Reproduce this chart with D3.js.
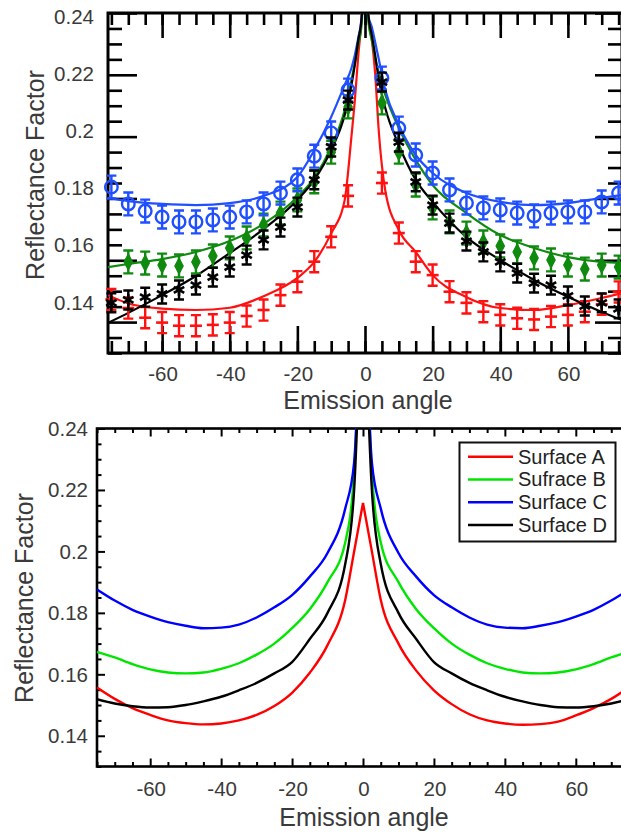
<!DOCTYPE html>
<html>
<head>
<meta charset="utf-8">
<script src="https://cdn.jsdelivr.net/npm/d3@7"></script>
<style>
  body { margin: 0; background: #fff; }
  svg text { font-family: "Liberation Sans", Arial, Helvetica, sans-serif; }
</style>
</head>
<body>
<svg id="chart" width="621" height="833"></svg>
<script>
// ---------- measured reflectance (upper panel) ----------
const measAngles = [-75,-70,-65,-60,-55,-50,-45,-40,-35,-30,-25,-20,-15,-10,-5,
                    5,10,15,20,25,30,35,40,45,50,55,60,65,70,75];
const measA = [0.1409,0.1379,0.1345,0.1328,0.1317,0.1317,0.1320,0.1328,0.1351,0.1372,0.1424,0.1471,0.1541,0.1628,0.1771,
               0.1816,0.1641,0.1541,0.1494,0.1436,0.1397,0.1366,0.1355,0.1343,0.1339,0.1349,0.1355,0.1366,0.1392,0.1435];
const measB = [null,0.1540,0.1536,0.1529,0.1526,0.1540,0.1561,0.1589,0.1624,0.1669,0.1711,0.1757,0.1820,0.1924,0.2082,
               0.2096,0.1924,0.1809,0.1729,0.1680,0.1641,0.1610,0.1596,0.1575,0.1554,0.1547,0.1529,0.1515,0.1529,0.1522];
const measC = [0.1802,0.1743,0.1718,0.1697,0.1680,0.1680,0.1687,0.1697,0.1715,0.1743,0.1781,0.1827,0.1910,0.1991,0.2141,
               0.2183,0.2008,0.1914,0.1851,0.1792,0.1746,0.1729,0.1722,0.1711,0.1701,0.1711,0.1715,0.1715,0.1750,0.1781];
const measD = [0.1397,0.1407,0.1417,0.1428,0.1442,0.1459,0.1487,0.1522,0.1564,0.1617,0.1662,0.1732,0.1827,0.1942,0.2106,
               0.2169,0.1959,0.1820,0.1739,0.1676,0.1613,0.1575,0.1540,0.1501,0.1466,0.1459,0.1421,0.1386,0.1397,0.1376];
// half-height of the error bars
const errA = 0.0037, errB = 0.0040, errC = 0.0040, errD = 0.0033;

// ---------- fitted curves (upper panel) ----------
const fitAngles = [-76,-70,-60,-50,-40,-30,-20,-15,-10,-6,-4,-3,-2,-1,0,1,2,3,4,6,10,15,20,30,40,50,60,70,76];
const fitA = [0.1424,0.1395,0.1377,0.1372,0.1380,0.1420,0.1484,0.1540,0.1640,0.1757,0.1980,0.2106,0.2260,0.2400,0.2700,
              0.2400,0.2320,0.2200,0.2010,0.1790,0.1652,0.1575,0.1494,0.1417,0.1379,0.1372,0.1389,0.1414,0.1431];
const fitB = [0.1522,0.1533,0.1550,0.1575,0.1613,0.1673,0.1767,0.1834,0.1942,0.2071,0.2176,0.2236,0.2299,0.2369,0.2700,
              0.2379,0.2316,0.2253,0.2204,0.2124,0.2008,0.1897,0.1809,0.1711,0.1634,0.1589,0.1557,0.1540,0.1536];
const fitC = [0.1764,0.1753,0.1743,0.1739,0.1746,0.1771,0.1837,0.1931,0.2047,0.2159,0.2218,0.2264,0.2323,0.2400,0.2700,
              0.2400,0.2362,0.2309,0.2253,0.2141,0.2019,0.1914,0.1851,0.1781,0.1750,0.1739,0.1746,0.1764,0.1774];
const fitD = [0.1327,0.1362,0.1424,0.1491,0.1571,0.1655,0.1757,0.1827,0.1931,0.2054,0.2159,0.2229,0.2316,0.2393,0.2700,
              0.2403,0.2334,0.2264,0.2183,0.2078,0.1949,0.1827,0.1750,0.1627,0.1547,0.1477,0.1418,0.1365,0.1337];

// ---------- model curves (lower panel) ----------
const modelAngles = [-75,-70,-65,-60,-55,-50,-45,-40,-35,-30,-25,-20,-15,-10,-5,-2.5,0,
                     2.5,5,10,15,20,25,30,35,40,45,50,55,60,65,70,75];
const modelA = [0.1557,0.1520,0.1490,0.1468,0.1450,0.1441,0.1437,0.1440,0.1450,0.1468,0.1497,0.1540,0.1605,0.1695,0.1843,0.2000,0.2158,
                0.2000,0.1843,0.1700,0.1612,0.1548,0.1503,0.1470,0.1450,0.1440,0.1436,0.1438,0.1446,0.1466,0.1490,0.1520,0.1558];
const modelB = [0.1673,0.1655,0.1633,0.1616,0.1606,0.1603,0.1606,0.1618,0.1636,0.1664,0.1700,0.1750,0.1812,0.1900,0.2030,0.2260,0.3000,
                0.2260,0.2030,0.1900,0.1812,0.1750,0.1700,0.1664,0.1636,0.1618,0.1606,0.1603,0.1606,0.1616,0.1633,0.1655,0.1673];
const modelC = [0.1876,0.1840,0.1810,0.1788,0.1770,0.1758,0.1750,0.1752,0.1762,0.1785,0.1818,0.1858,0.1918,0.1995,0.2140,0.2290,0.3100,
                0.2290,0.2140,0.1995,0.1918,0.1858,0.1818,0.1785,0.1762,0.1752,0.1750,0.1758,0.1770,0.1788,0.1810,0.1840,0.1876];
const modelD = [0.1519,0.1505,0.1496,0.1492,0.1493,0.1500,0.1512,0.1527,0.1548,0.1572,0.1603,0.1640,0.1715,0.1800,0.1960,0.2200,0.3000,
                0.2200,0.1960,0.1800,0.1715,0.1640,0.1603,0.1572,0.1548,0.1527,0.1512,0.1500,0.1493,0.1492,0.1496,0.1505,0.1519];
const legendLabels = ["Surface A", "Sufrace B", "Surface C", "Surface D"];

// ---------- tick values ----------
const xMajor = [-60,-40,-20,0,20,40,60];
const xMinor = d3.range(-75, 76, 5);
const yMajor = [0.14,0.16,0.18,0.20,0.22,0.24];
const yMinor = d3.range(130, 241, 5).map(d => d / 1000);

const xTitle = "Emission angle";
const yTitle = "Reflectance Factor";

const svg = d3.select("#chart");
const TXT = "#3a3a3a";
const fmtY = d3.format(".2~f");

function splitHalves(angles, vals) {
  const pts = angles.map((a, i) => [a, vals[i]]);
  return [pts.filter(p => p[0] <= 0), pts.filter(p => p[0] >= 0)];
}

// =============== upper panel ===============
const T = { l: 108, t: 13, r: 622, b: 353 };
const xT = d3.scaleLinear().domain([-76, 76]).range([T.l, T.r]);
const yT = d3.scaleLinear().domain([0.14, 0.24]).range([302, 16]);      // values & labels
const yTF = d3.scaleLinear().domain([0.13, 0.24]).range([T.b, T.t]);    // frame tick marks

const gT = svg.append("g");
gT.append("clipPath").attr("id", "clipT").append("rect")
  .attr("x", T.l).attr("y", T.t).attr("width", T.r - T.l).attr("height", T.b - T.t);

function tickAxis(g, axis, tr, w) {
  const a = g.append("g").attr("transform", tr).call(axis);
  a.select(".domain").remove();
  a.selectAll("line").attr("stroke", "#000").attr("stroke-width", w);
  a.selectAll("text").remove();
  return a;
}
// frame ticks, upper panel (long inward ticks)
tickAxis(gT, d3.axisBottom(xT).tickValues(xMinor).tickSize(-12), `translate(0,${T.b})`, 2.6);
tickAxis(gT, d3.axisBottom(xT).tickValues(xMajor).tickSize(-27), `translate(0,${T.b})`, 2.6);
tickAxis(gT, d3.axisTop(xT).tickValues(xMinor).tickSize(-12), `translate(0,${T.t})`, 2.6);
tickAxis(gT, d3.axisTop(xT).tickValues(xMajor).tickSize(-25), `translate(0,${T.t})`, 2.6);
const yMinorT = yMinor.filter(v => !yMajor.some(m => Math.abs(m - v) < 1e-9));
tickAxis(gT, d3.axisLeft(yTF).tickValues(yMinorT).tickSize(-14), `translate(${T.l},0)`, 2.6);
tickAxis(gT, d3.axisLeft(yTF).tickValues(yMajor).tickSize(-29), `translate(${T.l},0)`, 2.6);
tickAxis(gT, d3.axisRight(yTF).tickValues(yMinorT).tickSize(-14), `translate(${T.r},0)`, 2.6);
tickAxis(gT, d3.axisRight(yTF).tickValues(yMajor).tickSize(-27), `translate(${T.r},0)`, 2.6);

gT.append("rect").attr("x", T.l).attr("y", T.t).attr("width", T.r - T.l).attr("height", T.b - T.t)
  .attr("fill", "none").attr("stroke", "#000").attr("stroke-width", 3);

// tick labels
gT.selectAll(null).data(yMajor).join("text")
  .attr("x", 94).attr("y", d => yT(d)).attr("text-anchor", "end").attr("dominant-baseline", "central")
  .attr("font-size", 20.5).attr("fill", TXT).text(d => fmtY(d));
gT.selectAll(null).data(xMajor).join("text")
  .attr("x", d => xT(d) + 1).attr("y", 373).attr("text-anchor", "middle").attr("dominant-baseline", "central")
  .attr("font-size", 20.5).attr("fill", TXT).text(d => d);
gT.append("text").attr("x", 368).attr("y", 400).attr("text-anchor", "middle").attr("dominant-baseline", "central")
  .attr("font-size", 25).attr("fill", TXT).text(xTitle);
gT.append("text").attr("transform", "translate(44,175) rotate(-90)").attr("text-anchor", "middle")
  .attr("font-size", 25).attr("fill", TXT).text(yTitle);

// fitted curves
const colTA = "#ff1111", colTB = "#0f8a0f", colTC = "#1f4fff", colTD = "#000000";
const lineT = d3.line().x(d => xT(d[0])).y(d => yT(d[1])).curve(d3.curveMonotoneX);
const fitG = gT.append("g").attr("clip-path", "url(#clipT)");
[[fitA, colTA], [fitB, colTB], [fitC, colTC], [fitD, colTD]].forEach(([vals, c]) => {
  splitHalves(fitAngles, vals).forEach(half => {
    fitG.append("path").attr("d", lineT(half)).attr("fill", "none").attr("stroke", c).attr("stroke-width", 2.2);
  });
});

// measured points with error bars
function drawMeasured(vals, err, color, kind) {
  const pts = measAngles.map((a, i) => ({ a, v: vals[i] })).filter(d => d.v != null);
  const g = gT.append("g").attr("stroke", color).attr("stroke-width", 2.4).attr("fill", "none");
  const cap = 5;
  g.selectAll(null).data(pts).join("path")
    .attr("d", d => {
      const x = xT(d.a), y1 = yT(d.v - err), y2 = yT(d.v + err);
      return `M${x},${y1}V${y2}M${x - cap},${y1}H${x + cap}M${x - cap},${y2}H${x + cap}`;
    });
  const m = g.selectAll(null).data(pts).join("path")
    .attr("transform", d => `translate(${xT(d.a)},${yT(d.v)})`);
  if (kind === "plus") m.attr("d", "M-6,0H6").attr("stroke-width", 2.6);
  if (kind === "circle") m.attr("d", d3.symbol(d3.symbolCircle, 125)());
  if (kind === "diamond") m.attr("d", "M0,-8L4.2,0L0,8L-4.2,0Z").attr("fill", color).attr("stroke-width", 1.2);
  if (kind === "star") m.attr("d", "M0,-6V6M-5.2,-3L5.2,3M-5.2,3L5.2,-3").attr("stroke-width", 2.6);
}
drawMeasured(measA, errA, colTA, "plus");
drawMeasured(measB, errB, colTB, "diamond");
drawMeasured(measC, errC, colTC, "circle");
drawMeasured(measD, errD, colTD, "star");

// =============== lower panel ===============
const B = { l: 97, t: 428.5, r: 629, b: 766.5 };
const xB = d3.scaleLinear().domain([-75, 75]).range([B.l, B.r]);
const yB = d3.scaleLinear().domain([0.13, 0.24]).range([B.b, B.t]);
const gB = svg.append("g");
gB.append("clipPath").attr("id", "clipB").append("rect")
  .attr("x", B.l).attr("y", B.t).attr("width", B.r - B.l).attr("height", B.b - B.t);

const xMinorB = xMinor.filter(v => !xMajor.includes(v));
tickAxis(gB, d3.axisBottom(xB).tickValues(xMinorB).tickSize(-4.5), `translate(0,${B.b})`, 2);
tickAxis(gB, d3.axisBottom(xB).tickValues(xMajor).tickSize(-8), `translate(0,${B.b})`, 2);
tickAxis(gB, d3.axisTop(xB).tickValues(xMinorB).tickSize(-4.5), `translate(0,${B.t})`, 2);
tickAxis(gB, d3.axisTop(xB).tickValues(xMajor).tickSize(-8), `translate(0,${B.t})`, 2);
tickAxis(gB, d3.axisLeft(yB).tickValues(yMinorT).tickSize(-4.5), `translate(${B.l},0)`, 2);
tickAxis(gB, d3.axisLeft(yB).tickValues(yMajor).tickSize(-8), `translate(${B.l},0)`, 2);
tickAxis(gB, d3.axisRight(yB).tickValues(yMinorT).tickSize(-4.5), `translate(${B.r},0)`, 2);
tickAxis(gB, d3.axisRight(yB).tickValues(yMajor).tickSize(-8), `translate(${B.r},0)`, 2);
gB.append("rect").attr("x", B.l).attr("y", B.t).attr("width", B.r - B.l).attr("height", B.b - B.t)
  .attr("fill", "none").attr("stroke", "#000").attr("stroke-width", 2.6);

gB.selectAll(null).data(yMajor).join("text")
  .attr("x", 88).attr("y", d => yB(d)).attr("text-anchor", "end").attr("dominant-baseline", "central")
  .attr("font-size", 20.5).attr("fill", TXT).text(d => fmtY(d));
gB.selectAll(null).data(xMajor).join("text")
  .attr("x", d => xB(d) + 1).attr("y", 788).attr("text-anchor", "middle").attr("dominant-baseline", "central")
  .attr("font-size", 20.5).attr("fill", TXT).text(d => d);
gB.append("text").attr("x", 364).attr("y", 817).attr("text-anchor", "middle").attr("dominant-baseline", "central")
  .attr("font-size", 25).attr("fill", TXT).text(xTitle);
gB.append("text").attr("transform", "translate(33,598) rotate(-90)").attr("text-anchor", "middle")
  .attr("font-size", 25).attr("fill", TXT).text(yTitle);

const colBA = "#ff0000", colBB = "#00e600", colBC = "#0000ff", colBD = "#000000";
const lineB = d3.line().x(d => xB(d[0])).y(d => yB(d[1])).curve(d3.curveMonotoneX);
const modG = gB.append("g").attr("clip-path", "url(#clipB)");
[[modelA, colBA], [modelB, colBB], [modelC, colBC], [modelD, colBD]].forEach(([vals, c]) => {
  splitHalves(modelAngles, vals).forEach(half => {
    modG.append("path").attr("d", lineB(half)).attr("fill", "none").attr("stroke", c).attr("stroke-width", 2.4);
  });
});

// legend
const lg = gB.append("g");
lg.append("rect").attr("x", 459.5).attr("y", 442.5).attr("width", 156).attr("height", 99)
  .attr("fill", "#fff").attr("stroke", "#111").attr("stroke-width", 2);
const legendColors = [colBA, colBB, colBC, colBD];
const legendY = d3.scalePoint().domain(legendLabels).range([456.7, 525]);
legendLabels.forEach((lab, i) => {
  const y = legendY(lab);
  lg.append("line").attr("x1", 468).attr("x2", 513).attr("y1", y).attr("y2", y)
    .attr("stroke", legendColors[i]).attr("stroke-width", 2.4);
  lg.append("text").attr("x", 518).attr("y", y).attr("dominant-baseline", "central")
    .attr("font-size", 20).attr("fill", "#222").text(lab);
});
</script>
</body>
</html>
